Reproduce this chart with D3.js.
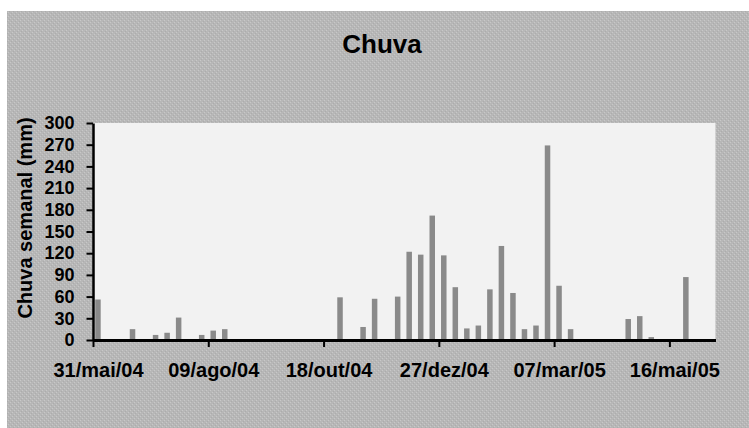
<!DOCTYPE html>
<html>
<head>
<meta charset="utf-8">
<script src="https://cdn.jsdelivr.net/npm/d3@7"></script>
<style>
  body { margin: 0; background: #ffffff; }
</style>
</head>
<body>
<script>
// weekly rain (mm), one value per week starting 31/mai/04
const weekStart = '2004-05-31';
const chuva = [56, 0, 0, 15, 0, 7, 10, 31, 0, 7,
               13, 15, 0, 0, 0, 0, 0, 0, 0, 0,
               0, 59, 0, 18, 57, 0, 60, 122, 118, 172,
               117, 73, 16, 20, 70, 130, 65, 15, 20, 269,
               75, 15, 0, 0, 0, 0, 29, 33, 4, 0,
               0, 87, 0, 0];
const yTicks = [0, 30, 60, 90, 120, 150, 180, 210, 240, 270, 300];
const xTicks = ['2004-05-31', '2004-08-09', '2004-10-18', '2004-12-27', '2005-03-07', '2005-05-16'];
const xEnd = '2005-06-13';
const meses = ['jan', 'fev', 'mar', 'abr', 'mai', 'jun', 'jul', 'ago', 'set', 'out', 'nov', 'dez'];

const width = 749, height = 428;
const plot = {left: 93, right: 715.5, top: 123, bottom: 340};
const font = '"Liberation Sans", Arial, sans-serif';

const parse = d3.utcParse('%Y-%m-%d');
const start = parse(weekStart);
const data = chuva.map((v, i) => ({date: d3.utcDay.offset(start, i * 7), value: v}));

const x = d3.scaleUtc().domain([start, parse(xEnd)]).range([plot.left, plot.right]);
const y = d3.scaleLinear().domain([0, 300]).range([plot.bottom, plot.top]);

const fmt = d => d3.utcFormat('%d')(d) + '/' + meses[d.getUTCMonth()] + '/' + d3.utcFormat('%y')(d);

const svg = d3.select('body').append('svg')
  .attr('width', width)
  .attr('height', height);

// hatched grey background like the excel chart area
const pat = svg.append('defs').append('pattern')
  .attr('id', 'hatch')
  .attr('width', 4).attr('height', 4)
  .attr('patternUnits', 'userSpaceOnUse');
pat.append('rect').attr('width', 4).attr('height', 4).attr('fill', '#b7b7b7');
pat.append('rect').attr('x', 0).attr('y', 0).attr('width', 1).attr('height', 1).attr('fill', '#c8c8c8');
pat.append('rect').attr('x', 2).attr('y', 2).attr('width', 1).attr('height', 1).attr('fill', '#c8c8c8');
pat.append('rect').attr('x', 1).attr('y', 3).attr('width', 1).attr('height', 1).attr('fill', '#acacac');
pat.append('rect').attr('x', 3).attr('y', 1).attr('width', 1).attr('height', 1).attr('fill', '#acacac');

svg.append('rect')
  .attr('x', 7).attr('y', 11)
  .attr('width', width - 7).attr('height', height - 11)
  .attr('fill', 'url(#hatch)');

// plot area
svg.append('rect')
  .attr('x', plot.left).attr('y', plot.top)
  .attr('width', plot.right - plot.left).attr('height', plot.bottom - plot.top)
  .attr('fill', '#f2f2f2');

// bars, centred in the middle of each week
svg.append('g').selectAll('rect').data(data.filter(d => d.value > 0)).join('rect')
  .attr('x', d => x(d3.utcHour.offset(d.date, 72)) - 2.75)
  .attr('y', d => y(d.value))
  .attr('width', 5.5)
  .attr('height', d => y(0) - y(d.value))
  .attr('fill', '#8a8a8a');

// y axis
const yAxis = d3.axisLeft(y).tickValues(yTicks).tickSize(6.5).tickSizeOuter(0).tickPadding(12);
svg.append('g')
  .attr('transform', `translate(${plot.left}, 0)`)
  .call(yAxis)
  .call(g => g.select('.domain').attr('stroke', '#000').attr('stroke-width', 2.5))
  .call(g => g.selectAll('.tick line').attr('stroke', '#000').attr('stroke-width', 2))
  .call(g => g.selectAll('.tick text')
    .attr('fill', '#000')
    .attr('font-family', font)
    .attr('font-weight', 'bold')
    .attr('font-size', 18));

// x axis
const xAxis = d3.axisBottom(x).tickValues(xTicks.map(parse)).tickFormat(fmt).tickSize(7).tickSizeOuter(0);
svg.append('g')
  .attr('transform', `translate(0, ${plot.bottom})`)
  .call(xAxis)
  .call(g => g.select('.domain').attr('stroke', '#000').attr('stroke-width', 3))
  .call(g => g.selectAll('.tick line').attr('stroke', '#000').attr('stroke-width', 2))
  .call(g => g.selectAll('.tick text')
    .attr('fill', '#000')
    .attr('y', 37)
    .attr('dy', null)
    .attr('dx', 5)
    .attr('font-family', font)
    .attr('font-weight', 'bold')
    .attr('font-size', 20));

// y label
svg.append('text')
  .attr('transform', 'translate(32, 218) rotate(-90)')
  .attr('text-anchor', 'middle')
  .attr('fill', '#000')
  .attr('font-family', font)
  .attr('font-weight', 'bold')
  .attr('font-size', 20)
  .text('Chuva semanal (mm)');

// title
svg.append('text')
  .attr('x', 382)
  .attr('y', 53)
  .attr('text-anchor', 'middle')
  .attr('fill', '#000')
  .attr('font-family', font)
  .attr('font-weight', 'bold')
  .attr('font-size', 26)
  .text('Chuva');
</script>
</body>
</html>
